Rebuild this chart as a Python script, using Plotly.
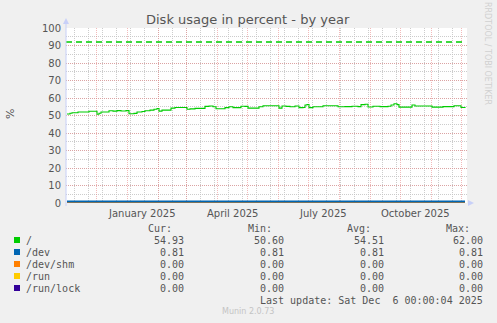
import plotly.graph_objects as go

# ---------------- data ----------------
ROOT_DATES = [
    "2024-11-02", "2024-11-05", "2024-11-07", "2024-11-13", "2024-11-22", "2024-11-24",
    "2024-11-30", "2024-12-02", "2024-12-04", "2024-12-06", "2024-12-12", "2024-12-14",
    "2024-12-18", "2024-12-22", "2024-12-26", "2024-12-31", "2025-01-03", "2025-01-08",
    "2025-01-11", "2025-01-16", "2025-01-19", "2025-01-24", "2025-01-28", "2025-01-31",
    "2025-02-02", "2025-02-05", "2025-02-11", "2025-02-14", "2025-02-18", "2025-02-28",
    "2025-03-02", "2025-03-05", "2025-03-10", "2025-03-17", "2025-03-20", "2025-03-24",
    "2025-03-28", "2025-03-31", "2025-04-06", "2025-04-09", "2025-04-13", "2025-04-17",
    "2025-04-22", "2025-04-25", "2025-04-29", "2025-05-02", "2025-05-10", "2025-05-13",
    "2025-05-17", "2025-05-30", "2025-06-02", "2025-06-05", "2025-06-09", "2025-06-13",
    "2025-06-18", "2025-06-22", "2025-06-26", "2025-06-28", "2025-06-30", "2025-07-02",
    "2025-07-06", "2025-07-13", "2025-07-16", "2025-07-29", "2025-07-31", "2025-08-07",
    "2025-08-14", "2025-08-20", "2025-08-23", "2025-08-27", "2025-08-30", "2025-09-04",
    "2025-09-11", "2025-09-19", "2025-09-22", "2025-09-25", "2025-09-28", "2025-09-30",
    "2025-10-11", "2025-10-13", "2025-10-16", "2025-10-31", "2025-11-02", "2025-11-10",
    "2025-11-13", "2025-11-22", "2025-11-24", "2025-11-30", "2025-12-01", "2025-12-05",
]
ROOT_VALUES = [
    50.9, 51.3, 51.6, 52.0, 52.0, 52.4,
    52.4, 50.7, 51.3, 52.0, 52.0, 52.7,
    52.5, 52.8, 52.6, 52.8, 51.0, 51.2,
    52.0, 52.3, 52.7, 53.1, 53.6, 54.0,
    52.5, 53.1, 53.1, 54.2, 54.6, 54.6,
    53.6, 53.8, 54.1, 54.1, 55.2, 55.4,
    55.0, 53.9, 53.9, 54.5, 55.0, 54.5,
    54.5, 55.3, 55.2, 54.2, 54.2, 55.0,
    55.6, 55.6, 54.2, 55.4, 55.2, 55.0,
    55.4, 54.5, 54.6, 56.0, 56.3, 54.5,
    55.0, 55.0, 55.6, 55.6, 55.0, 55.1,
    55.3, 55.1, 56.2, 56.4, 54.9, 55.3,
    55.1, 55.3, 56.0, 56.7, 56.2, 54.8,
    54.8, 56.0, 55.4, 55.4, 54.8, 54.8,
    55.1, 55.1, 55.6, 55.6, 54.6, 54.9,
]
SPAN_DATES = ["2024-11-02", "2025-12-05"]
WARN_DATES = ["2024-11-01", "2025-12-02"]
WARNING = 92

NAMES = ["/", "/dev", "/dev/shm", "/run", "/run/lock"]
COLORS = ["#00cc00", "#0066b3", "#ff8000", "#ffcc00", "#330099"]
CUR = [54.93, 0.81, 0.00, 0.00, 0.00]
MIN = [50.60, 0.81, 0.00, 0.00, 0.00]
AVG = [54.51, 0.81, 0.00, 0.00, 0.00]
MAX = [62.00, 0.81, 0.00, 0.00, 0.00]
FLAT_LEVELS = [0.81, 0.00, 0.00, 0.00]  # /dev, /dev/shm, /run, /run/lock

MONTH_STARTS = ["2024-12-01", "2025-01-01", "2025-02-01", "2025-03-01", "2025-04-01",
                "2025-05-01", "2025-06-01", "2025-07-01", "2025-08-01", "2025-09-01",
                "2025-10-01", "2025-11-01", "2025-12-01"]
XLABEL_POS = ["2025-01-16", "2025-04-16", "2025-07-16", "2025-10-16"]
XLABELS = ["January 2025", "April 2025", "July 2025", "October 2025"]
YTICKS = [0, 10, 20, 30, 40, 50, 60, 70, 80, 90, 100]
X_RANGE = ["2024-11-01", "2025-12-07"]

TITLE = "Disk usage in percent - by year"
LAST_UPDATE = "Last update: Sat Dec  6 00:00:04 2025"

# ---------------- geometry helpers (pixel -> paper) ----------------
W, H = 497, 323
L, R, T, B = 66, 467, 28, 203


def px(x):
    return (x - L) / (R - L)


def py(y):
    return (B - y) / (B - T)


TEXT = "#555555"
MONO = "DejaVu Sans Mono"
SANS = "DejaVu Sans"
MAJ = "rgba(232,130,130,0.55)"
MINC = "rgba(195,195,195,0.85)"

fig = go.Figure()

# zero-level series first, then /dev on top
for name, col, lvl in reversed(list(zip(NAMES[1:], COLORS[1:], FLAT_LEVELS))):
    fig.add_trace(go.Scatter(x=SPAN_DATES, y=[lvl, lvl], mode="lines",
                             line=dict(color=col, width=2), name=name,
                             hoverinfo="skip"))

fig.add_trace(go.Scatter(x=WARN_DATES, y=[WARNING, WARNING], mode="lines",
                         line=dict(color=COLORS[0], width=1.3, dash="6px,4px"),
                         hoverinfo="skip"))
fig.add_trace(go.Scatter(x=ROOT_DATES, y=ROOT_VALUES, mode="lines",
                         line=dict(color=COLORS[0], width=1.1, shape="hv"),
                         name=NAMES[0], hoverinfo="skip"))

annotations = []
annotations.append(dict(text=TITLE, x=px(248), y=py(19), xref="paper", yref="paper",
                        showarrow=False, font=dict(family=SANS, size=13, color=TEXT),
                        xanchor="center", yanchor="middle"))
annotations.append(dict(text="%", x=px(10), y=py(114), xref="paper", yref="paper",
                        showarrow=False, textangle=-90,
                        font=dict(family=SANS, size=11, color=TEXT),
                        xanchor="center", yanchor="middle"))
annotations.append(dict(text="RRDTOOL / TOBI OETIKER", x=px(488), y=py(53), xref="paper",
                        yref="paper", showarrow=False, textangle=90,
                        font=dict(family=SANS, size=8, color="#d0d0d0"),
                        xanchor="center", yanchor="middle"))
for pos, lab in zip(XLABEL_POS, XLABELS):
    annotations.append(dict(text=lab, x=pos, y=py(213), xref="x", yref="paper",
                            showarrow=False, font=dict(family=SANS, size=10, color=TEXT),
                            xanchor="center", yanchor="middle"))
for lab, xr in zip(["Cur:", "Min:", "Avg:", "Max:"], [172, 272, 371, 470]):
    annotations.append(dict(text=lab, x=px(xr), y=py(228), xref="paper", yref="paper",
                            showarrow=False, font=dict(family=MONO, size=10, color=TEXT),
                            xanchor="right", yanchor="middle", borderpad=0, borderwidth=0))
shapes = []
row_y = [240, 252, 264, 276, 288]
for i, name in enumerate(NAMES):
    yy = row_y[i]
    shapes.append(dict(type="rect", xref="paper", yref="paper",
                       x0=px(14), x1=px(20), y0=py(yy - 3), y1=py(yy + 3),
                       fillcolor=COLORS[i], line=dict(width=0)))
    annotations.append(dict(text=name, x=px(26), y=py(yy), xref="paper", yref="paper",
                            showarrow=False, font=dict(family=MONO, size=10, color=TEXT),
                            xanchor="left", yanchor="middle", borderpad=0, borderwidth=0))
    for vals, xr in zip([CUR, MIN, AVG, MAX], [184, 284, 384, 483]):
        annotations.append(dict(text=f"{vals[i]:.2f}", x=px(xr), y=py(yy), xref="paper",
                                yref="paper", showarrow=False,
                                font=dict(family=MONO, size=10, color=TEXT),
                                xanchor="right", yanchor="middle", borderpad=0,
                                borderwidth=0))
annotations.append(dict(text=LAST_UPDATE.replace("  ", "&nbsp; "), x=px(483), y=py(300),
                        xref="paper", yref="paper", showarrow=False,
                        font=dict(family=MONO, size=10, color=TEXT),
                        xanchor="right", yanchor="middle", borderpad=0, borderwidth=0))
annotations.append(dict(text="Munin 2.0.73", x=px(248), y=py(311), xref="paper",
                        yref="paper", showarrow=False,
                        font=dict(family=SANS, size=8, color="#c4c4c4"),
                        xanchor="center", yanchor="middle"))

AX = "#c8d0f8"
shapes.append(dict(type="path", xref="paper", yref="paper",
                   path=f"M {px(63)} {py(24)} L {px(69)} {py(24)} L {px(66)} {py(18)} Z",
                   fillcolor=AX, line=dict(width=0)))
shapes.append(dict(type="path", xref="paper", yref="paper",
                   path=f"M {px(468)} {py(200)} L {px(468)} {py(206)} L {px(474)} {py(203)} Z",
                   fillcolor=AX, line=dict(width=0)))
shapes.append(dict(type="line", xref="paper", yref="paper", x0=0, x1=0,
                   y0=py(206), y1=py(24), line=dict(color=AX, width=1)))

fig.update_layout(
    width=W, height=H, autosize=False,
    margin=dict(l=L, r=W - R, t=T, b=H - B, pad=0),
    paper_bgcolor="#f0f0f0", plot_bgcolor="#ffffff",
    showlegend=False,
    annotations=annotations, shapes=shapes,
    xaxis=dict(type="date", range=X_RANGE, tickvals=MONTH_STARTS, showticklabels=False,
               showgrid=True, gridcolor=MAJ, griddash="1px,1px", gridwidth=1,
               ticks="", zeroline=False, showline=False,
               minor=dict(dtick=14 * 86400000, tick0="2024-11-09", showgrid=True,
                          gridcolor=MINC, griddash="1px,1px", gridwidth=1, ticks="")),
    yaxis=dict(range=[0, 100], tickvals=YTICKS, showgrid=True, gridcolor=MAJ,
               griddash="1px,1px", gridwidth=1, zeroline=False, showline=False,
               ticks="", ticklabelstandoff=4,
               tickfont=dict(family=SANS, size=10, color=TEXT),
               minor=dict(dtick=5, showgrid=True, gridcolor=MINC, griddash="1px,1px",
                          gridwidth=1, ticks="")),
)

fig.write_html("out.html")
